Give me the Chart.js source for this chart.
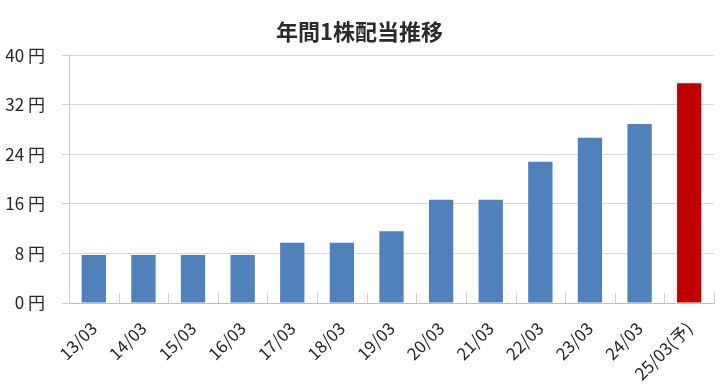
<!DOCTYPE html>
<html>
<head>
<meta charset="utf-8">
<script src="https://cdn.jsdelivr.net/npm/chart.js@4/dist/chart.umd.min.js"></script>
<style>
  body { margin: 0; background: #fff; }
  #wrap { width: 720px; height: 385px; }
</style>
</head>
<body>
<div id="wrap"><canvas id="dividend-chart" width="720" height="385"></canvas></div>
<script>
const periods = ["13/03", "14/03", "15/03", "16/03", "17/03", "18/03", "19/03",
  "20/03", "21/03", "22/03", "23/03", "24/03", "25/03(予)"];
const dividends = [7.75, 7.75, 7.75, 7.75, 9.75, 9.75, 11.6, 16.7, 16.7, 22.8, 26.7, 28.9, 35.5];
const forecastIndex = 12;
const yTicks = [0, 8, 16, 24, 32, 40];

const fontFamily = "'Noto Sans CJK JP', 'Noto Sans', sans-serif";

// small tick marks between categories, drawn upward from the baseline (Excel style)
const innerTicks = {
  id: "innerTicks",
  afterDatasetsDraw(chart) {
    const x = chart.scales.x;
    const y = chart.scales.y;
    const base = y.getPixelForValue(0);
    const ctx = chart.ctx;
    ctx.save();
    ctx.strokeStyle = "#d0d0d0";
    ctx.lineWidth = 1;
    for (let i = 0; i <= periods.length; i++) {
      const px = Math.round(x.getPixelForValue(i - 0.5)) + 0.5;
      ctx.beginPath();
      ctx.moveTo(px, base);
      ctx.lineTo(px, base - 10);
      ctx.stroke();
    }
    ctx.restore();
  }
};

const config = {
  type: "bar",
  data: {
    labels: periods,
    datasets: [
      {
        label: "年間1株配当",
        data: dividends,
        backgroundColor: dividends.map((v, i) => i === forecastIndex ? "#C00000" : "#4F81BD"),
        barPercentage: 0.49,
        categoryPercentage: 1.0,
      },
    ],
  },
  options: {
    responsive: false,
    animation: false,
    layout: {
      padding: { left: 5, right: 6, top: 0, bottom: 0 },
    },
    plugins: {
      legend: { display: false },
      tooltip: { enabled: false },
      title: {
        display: true,
        text: "年間1株配当推移",
        color: "#2a2a2a",
        font: { family: fontFamily, size: 22, weight: "bold" },
        padding: { top: 18, bottom: 11 },
      },
    },
    scales: {
      x: {
        offset: true,
        grid: { display: false },
        border: { display: true, color: "#bfbfbf" },
        // rotated first label may hang into the left margin, as in the original
        afterFit(scale) {
          scale.paddingLeft = 0;
          scale.height = 82;
        },
        ticks: {
          color: "#262626",
          font: { family: fontFamily, size: 17 },
          minRotation: 45,
          maxRotation: 45,
          padding: 7,
        },
      },
      y: {
        min: 0,
        max: 40,
        afterBuildTicks(scale) {
          scale.ticks = yTicks.map((v) => ({ value: v }));
        },
        afterFit(scale) {
          scale.width = 64;
        },
        grid: { color: "#d9d9d9", tickLength: 7, tickColor: "#d0d0d0" },
        border: { display: true, color: "#c8c8c8" },
        ticks: {
          color: "#262626",
          font: { family: fontFamily, size: 17 },
          padding: 17,
          callback: (v) => v + " 円",
        },
      },
    },
  },
  plugins: [innerTicks],
};

new Chart(document.getElementById("dividend-chart").getContext("2d"), config);
</script>
</body>
</html>
